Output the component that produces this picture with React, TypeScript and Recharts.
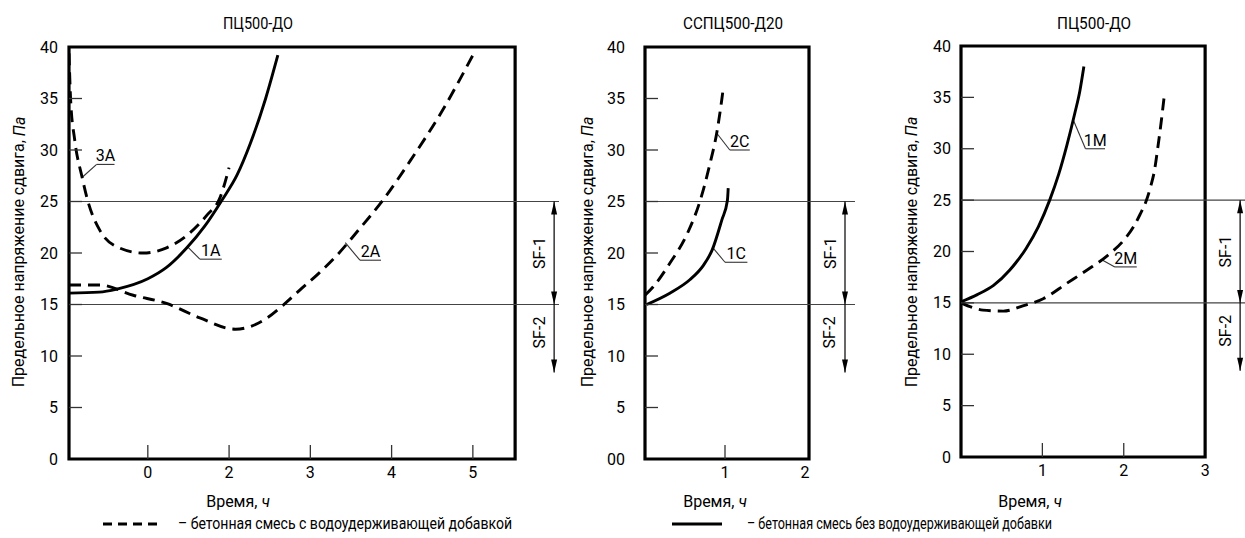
import React from 'react';
import { LineChart, Line, XAxis, YAxis, ReferenceLine, ReferenceArea } from 'recharts';

// ---- data (time in axis units, shear stress in Pa) ----
// panel 1: ПЦ500-ДО (x positions: tick "0" = 0, tick "2" = 1, ...)
const time1A = [-0.97, -0.6, -0.38, 0, 0.23, 0.48, 0.7, 0.91, 1.1, 1.26, 1.45, 1.6];
const shear1A = [16.1, 16.2, 16.5, 17.5, 18.6, 20.5, 22.6, 25.1, 27.6, 30.6, 35.0, 39.2];
const time2A = [-0.97, -0.59, -0.18, 0.23, 0.64, 1.08, 1.47, 1.66, 1.87, 2.1, 2.33, 2.6, 2.89, 3.25, 3.6, 4.0];
const shear2A = [16.9, 16.9, 15.9, 15.1, 13.7, 12.6, 13.7, 14.9, 16.4, 18.0, 19.8, 22.3, 25.1, 29.2, 33.5, 39.2];
const time3A = [-0.97, -0.95, -0.9, -0.81, -0.74, -0.59, -0.38, -0.06, 0.23, 0.48, 0.73, 0.89, 1.0];
const shear3A = [39.4, 34.9, 31.0, 27.4, 25.1, 22.2, 20.6, 20.0, 20.5, 21.7, 23.7, 25.4, 28.3];

// panel 2: ССПЦ500-Д20
const time1C = [0.02, 0.31, 0.56, 0.73, 0.84, 0.96, 1.03, 1.04];
const shear1C = [15.0, 16.1, 17.4, 18.8, 20.3, 23.2, 25.1, 26.3];
const time2C = [0, 0.1, 0.31, 0.53, 0.69, 0.81, 0.9, 0.96, 0.98];
const shear2C = [15.9, 16.7, 19.0, 21.9, 25.1, 28.6, 31.8, 34.9, 36.1];

// panel 3: ПЦ500-ДО
const time1M = [0, 0.2, 0.4, 0.6, 0.8, 0.95, 1.09, 1.2, 1.3, 1.4, 1.46, 1.51];
const shear1M = [15.1, 15.8, 16.7, 18.2, 20.3, 22.4, 25.0, 27.5, 30.3, 33.5, 35.6, 38.0];
const time2M = [0, 0.27, 0.52, 0.76, 1.01, 1.3, 1.55, 1.8, 2.0, 2.12, 2.2, 2.27, 2.33, 2.38, 2.42, 2.46, 2.5];
const shear2M = [15.0, 14.3, 14.2, 14.7, 15.4, 16.9, 18.2, 19.6, 21.1, 22.4, 23.6, 24.8, 26.3, 28.0, 30.2, 32.6, 35.3];

const yTicks = [0, 5, 10, 15, 20, 25, 30, 35, 40];
const yTickLabels = ['0', '5', '10', '15', '20', '25', '30', '35', '40'];
const yTickLabelsC = ['00', '5', '10', '15', '20', '25', '30', '35', '40'];
const xTicks1 = [0, 1, 2, 3, 4];
const xTickLabels1 = ['0', '2', '3', '4', '5'];
const xTicks2 = [1, 2];
const xTickLabels2 = ['1', '2'];
const xTicks3 = [1, 2, 3];
const xTickLabels3 = ['1', '2', '3'];

const sfUpper = 25;
const sfLower = 15;
const sf2End = 8.4;

// leader callouts: [label, curve x, curve y, elbow x, elbow y, end x]
const notes1: [string, number, number, number, number, number][] = [
  ['3A', -0.8, 27.4, -0.63, 28.6, -0.41],
  ['1A', 0.49, 20.6, 0.64, 19.4, 0.91],
  ['2A', 2.43, 21.0, 2.61, 19.3, 2.87],
];
const notes2: [string, number, number, number, number, number][] = [
  ['2C', 0.9, 31.6, 1.06, 30.0, 1.31],
  ['1C', 0.85, 20.5, 1.0, 19.1, 1.28],
];
const notes3: [string, number, number, number, number, number][] = [
  ['1M', 1.38, 32.8, 1.53, 30.0, 1.77],
  ['2M', 1.73, 19.2, 1.89, 18.5, 2.16],
];

const zip = (t: number[], s: number[]) => t.map((v, i) => ({ t: v, s: s[i] }));

const W = 1245;
const H = 538;
const FONT = 'Roboto, "Noto Sans", sans-serif';
const INK = '#000';
const DASH = '12 7';

const txt = { fontFamily: FONT, fontSize: 16, fill: INK };
const fit = { lengthAdjust: 'spacingAndGlyphs' as const };

function XTick(props: any) {
  const { x, y, payload, ticks, labels, border } = props;
  const i = ticks.indexOf(payload.value);
  const axisY = y - 7;
  return (
    <g>
      {payload.value < border - 0.1 && (
        <line x1={x} x2={x} y1={axisY} y2={axisY - 14} stroke="#333" strokeWidth={1.3} />
      )}
      <text x={x} y={axisY + 19} textAnchor="middle" style={txt}>
        {labels[i]}
      </text>
    </g>
  );
}

function YTick(props: any) {
  const { x, y, payload, labels, gap } = props;
  const i = yTicks.indexOf(payload.value);
  const axisX = x + gap;
  const v = payload.value;
  return (
    <g>
      {v > 0 && v < 40 && (
        <line x1={axisX} x2={axisX + 13} y1={y} y2={y} stroke="#333" strokeWidth={1.3} />
      )}
      <text x={x} y={y + 5.5} textAnchor="end" style={txt}>
        {labels[i]}
      </text>
    </g>
  );
}

function head(x: number, tip: number, dir: number) {
  // dir -1 = pointing up, 1 = pointing down
  const base = tip - dir * 13;
  return <polygon points={`${x},${tip} ${x - 3},${base} ${x + 3},${base}`} fill={INK} />;
}

function SfArrow(props: any) {
  const { x1, y1, y2, label, both } = props;
  const mid = (y1 + y2) / 2 - (both ? 0 : 6);
  return (
    <g>
      <line x1={x1} x2={x1} y1={y1} y2={y2} stroke={INK} strokeWidth={1.2} />
      {both && head(x1, y1, -1)}
      {head(x1, y2, 1)}
      <text
        x={x1 - 15}
        y={mid}
        transform={`rotate(-90 ${x1 - 15} ${mid})`}
        textAnchor="middle"
        dominantBaseline="central"
        style={txt}
      >
        {label}
      </text>
    </g>
  );
}

function Underline(props: any) {
  const { x1, y1, x2, label } = props;
  return (
    <g>
      <line x1={x1} x2={x2} y1={y1} y2={y1} stroke="#333" strokeWidth={1.1} />
      <text x={(x1 + x2) / 2} y={y1 - 3} textAnchor="middle" style={txt}>
        {label}
      </text>
    </g>
  );
}

type PanelProps = {
  plotLeft: number;
  plotRight: number;
  top: number;
  bottom: number;
  domain: [number, number];
  borderRight: number;
  arrowX: number;
  tickGap: number;
  xTicks: number[];
  xLabels: string[];
  yLabels: string[];
  title: string;
  titleX: number;
  titleW: number;
  timeX: number;
  yTitleX: number;
  notes: [string, number, number, number, number, number][];
  solid: { t: number; s: number }[][];
  dashed: { t: number; s: number }[][];
  children?: React.ReactNode;
};

function Panel(p: PanelProps) {
  const yAxisW = 60;
  return (
    <div style={{ position: 'absolute', left: 0, top: 0 }}>
      <LineChart
        width={W}
        height={H}
        margin={{ top: p.top, right: W - p.plotRight, bottom: H - p.bottom - 30, left: p.plotLeft - yAxisW }}
      >
        <XAxis
          type="number"
          dataKey="t"
          domain={p.domain}
          ticks={p.xTicks}
          interval={0}
          allowDataOverflow
          axisLine={false}
          tickLine={false}
          tickSize={0}
          tickMargin={7}
          height={30}
          tick={(tp: any) => <XTick {...tp} ticks={p.xTicks} labels={p.xLabels} border={p.borderRight} />}
        />
        <YAxis
          type="number"
          domain={[0, 40]}
          ticks={yTicks}
          interval={0}
          allowDataOverflow
          axisLine={false}
          tickLine={false}
          tickSize={0}
          tickMargin={p.tickGap}
          width={yAxisW}
          tick={(tp: any) => <YTick {...tp} labels={p.yLabels} gap={p.tickGap} />}
        />
        <ReferenceLine y={sfUpper} stroke="#444" strokeWidth={1.2} />
        <ReferenceLine y={sfLower} stroke="#444" strokeWidth={1.2} />
        <ReferenceArea
          x1={p.domain[0]}
          x2={p.borderRight}
          y1={0}
          y2={40}
          fill="none"
          fillOpacity={0}
          stroke="#000"
          strokeWidth={3.2}
        />
        {p.notes.map(([label, cx, cy, ex, ey]) => (
          <ReferenceLine
            key={label + 'l'}
            segment={[{ x: cx, y: cy }, { x: ex, y: ey }]}
            stroke="#333"
            strokeWidth={1.1}
          />
        ))}
        {p.notes.map(([label, , , ex, ey, endX]) => (
          <ReferenceLine
            key={label + 'u'}
            segment={[{ x: ex, y: ey }, { x: endX, y: ey }]}
            shape={(sp: any) => <Underline {...sp} label={label} />}
          />
        ))}
        <ReferenceLine
          segment={[{ x: p.arrowX, y: sfUpper }, { x: p.arrowX, y: sfLower }]}
          shape={(sp: any) => <SfArrow {...sp} label="SF-1" both />}
        />
        <ReferenceLine
          segment={[{ x: p.arrowX, y: sfLower }, { x: p.arrowX, y: sf2End }]}
          shape={(sp: any) => <SfArrow {...sp} label="SF-2" />}
        />
        {p.solid.map((d, i) => (
          <Line
            key={'s' + i}
            data={d}
            dataKey="s"
            type="monotone"
            stroke="#000"
            strokeWidth={2.9}
            dot={false}
            isAnimationActive={false}
          />
        ))}
        {p.dashed.map((d, i) => (
          <Line
            key={'d' + i}
            data={d}
            dataKey="s"
            type="monotone"
            stroke="#000"
            strokeWidth={2.9}
            strokeDasharray={DASH}
            dot={false}
            isAnimationActive={false}
          />
        ))}
        <text x={p.titleX} y={29} textAnchor="middle" style={txt} textLength={p.titleW} {...fit}>
          {p.title}
        </text>
        <text x={p.timeX} y={507} textAnchor="middle" style={txt}>
          Время, <tspan fontStyle="italic">ч</tspan>
        </text>
        <text
          x={p.yTitleX}
          y={252}
          transform={`rotate(-90 ${p.yTitleX} 252)`}
          textAnchor="middle"
          dominantBaseline="central"
          style={txt}
        >
          Предельное напряжение сдвига, <tspan fontStyle="italic">Па</tspan>
        </text>
        {p.children}
      </LineChart>
    </div>
  );
}

export default function App() {
  return (
    <div style={{ position: 'absolute', left: 0, top: 0, width: W, height: H, background: '#fff' }}>
      <Panel
        plotLeft={69}
        plotRight={559}
        top={47}
        bottom={459}
        domain={[-0.97, 5.06]}
        borderRight={4.52}
        arrowX={5.0}
        tickGap={11}
        xTicks={xTicks1}
        xLabels={xTickLabels1}
        yLabels={yTickLabels}
        title="ПЦ500-ДО"
        titleX={258}
        titleW={70}
        timeX={238}
        yTitleX={18.5}
        notes={notes1}
        solid={[zip(time1A, shear1A)]}
        dashed={[zip(time2A, shear2A), zip(time3A, shear3A)]}
      >
        <g>
          <line x1={103} x2={157} y1={524} y2={524} stroke="#000" strokeWidth={3} strokeDasharray="9 6" />
          <text x={178} y={529} style={txt} textLength={334} {...fit}>
            – бетонная смесь с водоудерживающей добавкой
          </text>
          <line x1={672} x2={722} y1={524} y2={524} stroke="#000" strokeWidth={3} />
          <text x={747} y={529} style={txt} textLength={305} {...fit}>
            – бетонная смесь без водоудерживающей добавки
          </text>
        </g>
      </Panel>
      <Panel
        plotLeft={645}
        plotRight={855}
        top={47}
        bottom={459}
        domain={[0, 2.625]}
        borderRight={2.05}
        arrowX={2.5}
        tickGap={20}
        xTicks={xTicks2}
        xLabels={xTickLabels2}
        yLabels={yTickLabelsC}
        title="ССПЦ500-Д20"
        titleX={733}
        titleW={100}
        timeX={715}
        yTitleX={587}
        notes={notes2}
        solid={[zip(time1C, shear1C)]}
        dashed={[zip(time2C, shear2C)]}
      />
      <Panel
        plotLeft={961}
        plotRight={1245}
        top={46}
        bottom={457}
        domain={[0, 3.49]}
        borderRight={3.0}
        arrowX={3.43}
        tickGap={10}
        xTicks={xTicks3}
        xLabels={xTickLabels3}
        yLabels={yTickLabels}
        title="ПЦ500-ДО"
        titleX={1094}
        titleW={74}
        timeX={1030}
        yTitleX={911}
        notes={notes3}
        solid={[zip(time1M, shear1M)]}
        dashed={[zip(time2M, shear2M)]}
      />
    </div>
  );
}
